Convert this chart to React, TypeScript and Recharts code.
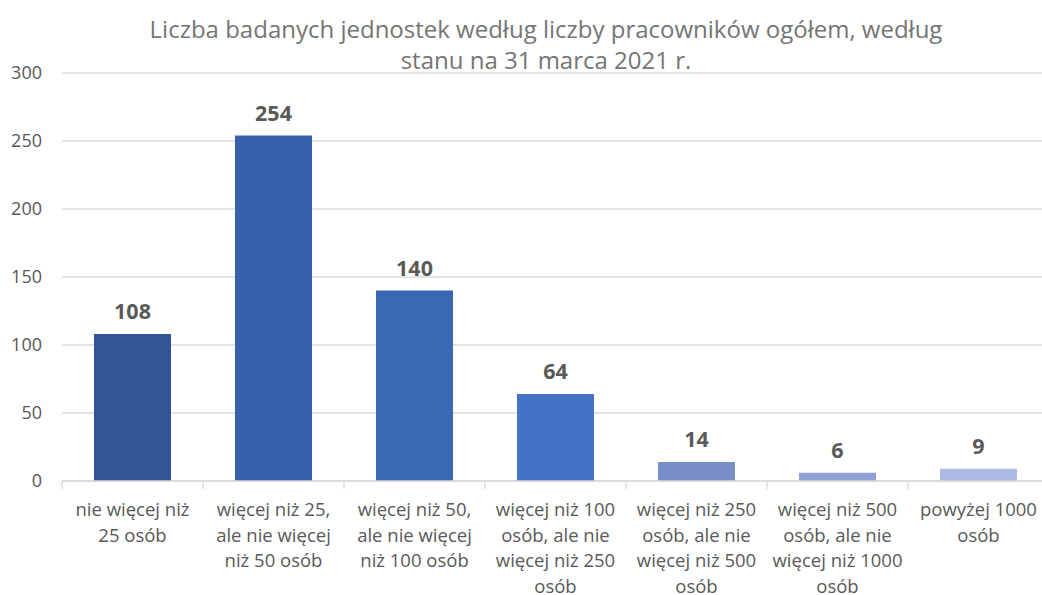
import { BarChart, Bar, XAxis, YAxis, CartesianGrid, Cell, LabelList } from 'recharts'

const categories = [
  'nie więcej niż\n25 osób',
  'więcej niż 25,\nale nie więcej\nniż 50 osób',
  'więcej niż 50,\nale nie więcej\nniż 100 osób',
  'więcej niż 100\nosób, ale nie\nwięcej niż 250\nosób',
  'więcej niż 250\nosób, ale nie\nwięcej niż 500\nosób',
  'więcej niż 500\nosób, ale nie\nwięcej niż 1000\nosób',
  'powyżej 1000\nosób',
]
const values = [108, 254, 140, 64, 14, 6, 9]
const barColors = ['#335593', '#3761ab', '#3b68b5', '#4472c4', '#7a8fc8', '#8fa1d4', '#adbbe2']
const yTicks = [0, 50, 100, 150, 200, 250, 300]
const titleLines = ['Liczba badanych jednostek według liczby pracowników ogółem, według', 'stanu na 31 marca 2021 r.']

const data = categories.map((name, i) => ({ name, value: values[i] }))

const FONT = '"Open Sans", sans-serif'
const TEXT = '#595959'
const GRID = '#d9d9d9'

function CategoryTick(props: any) {
  const { x, y, payload, width, visibleTicksCount, index } = props
  const band = width / visibleTicksCount
  const lines = String(payload.value).split('\n')
  return (
    <g>
      <line x1={x - band / 2} y1={y - 8} x2={x - band / 2} y2={y} stroke={GRID} strokeWidth={1.3} />
      {index === visibleTicksCount - 1 && (
        <line x1={x + band / 2} y1={y - 8} x2={x + band / 2} y2={y} stroke={GRID} strokeWidth={1.3} />
      )}
      <text x={x} y={y} textAnchor="middle" fill={TEXT} fontSize={18.5} fontFamily={FONT}>
        {lines.map((l, i) => (
          <tspan key={i} x={x} dy={i === 0 ? 27 : 25.5}>{l}</tspan>
        ))}
      </text>
    </g>
  )
}

export default function App() {
  return (
    <div style={{ position: 'absolute', left: 0, top: 0, width: 1042, height: 595, overflow: 'hidden', background: '#fff' }}>
      <div style={{ position: 'absolute', left: 0, top: 13, width: 1092, textAlign: 'center', color: '#757575', fontFamily: FONT, fontSize: 24, lineHeight: '31px' }}>
        {titleLines.map((t) => <div key={t}>{t}</div>)}
      </div>
      <BarChart width={1050} height={595} data={data} margin={{ top: 73, right: 1, left: 0, bottom: 0 }}>
        <CartesianGrid vertical={false} stroke={GRID} strokeWidth={1.3} />
        <XAxis
          dataKey="name"
          interval={0}
          height={114}
          axisLine={{ stroke: GRID, strokeWidth: 1.3 }}
          tickLine={false}
          tick={<CategoryTick />}
        />
        <YAxis
          domain={[0, 300]}
          ticks={yTicks}
          width={62}
          axisLine={false}
          tickLine={false}
          tickSize={0}
          tickMargin={20}
          tick={{ fill: TEXT, fontSize: 18, fontFamily: FONT }}
        />
        <Bar dataKey="value" barSize={77} isAnimationActive={false}>
          {data.map((d, i) => <Cell key={d.name} fill={barColors[i]} />)}
          <LabelList dataKey="value" position="top" offset={15} fill={TEXT} fontSize={21.5} fontWeight="bold" fontFamily={FONT} />
        </Bar>
      </BarChart>
    </div>
  )
}
